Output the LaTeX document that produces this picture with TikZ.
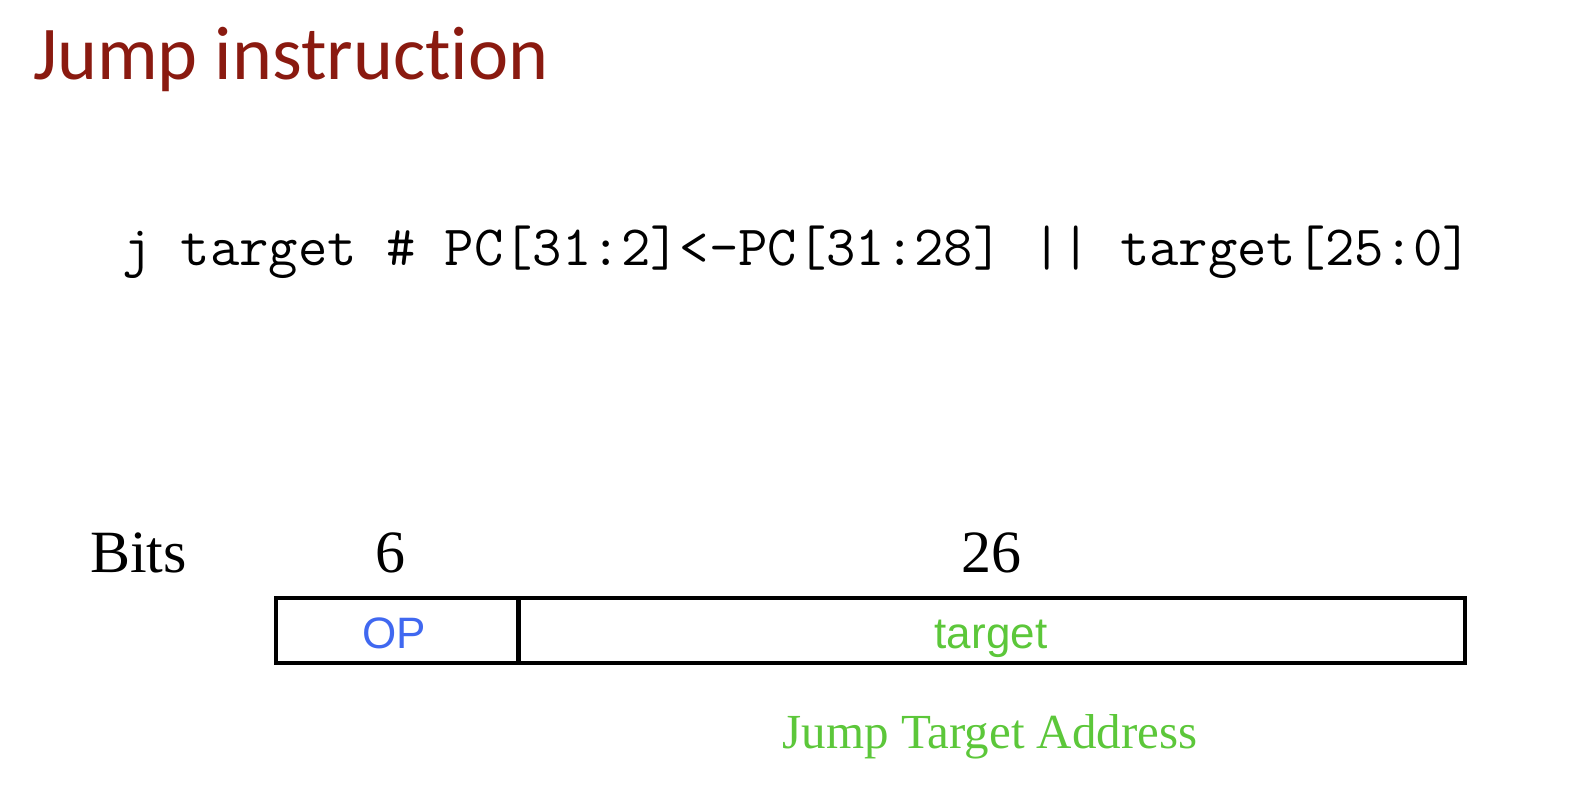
\documentclass[tikz,border=0pt]{standalone}
\usepackage{fontspec}
\newfontfamily\titlefont[Ligatures={NoCommon}]{Carlito}
\newfontfamily\seriffont{Liberation Serif}
\newfontfamily\sansfont{Liberation Sans}
\definecolor{titlered}{RGB}{138,26,16}
\definecolor{opblue}{RGB}{64,104,240}
\definecolor{tgtgreen}{RGB}{92,199,58}
\tikzset{
  every node/.style={inner sep=0pt, outer sep=0pt},
  bitslabel/.style={font=\seriffont\fontsize{30pt}{30pt}\selectfont, anchor=base},
  field/.style={draw=black, line width=2pt, minimum height=32.5pt, anchor=north west},
  fieldtext/.style={anchor=base, font=\sansfont\fontsize{22pt}{22pt}\selectfont},
}
\begin{document}
\begin{tikzpicture}[x=0.5pt,y=-0.5pt]
\useasboundingbox (0,0) rectangle (1594,784);
\node[anchor=base west, text=titlered, font=\titlefont\fontsize{38pt}{38pt}\selectfont] (title) at (33,79) {Jump instruction};
\node[anchor=base west, font=\ttfamily\fontsize{28.5pt}{28.5pt}\selectfont] (code) at (122,265) {j target \# PC[31:2]<-PC[31:28] || target[25:0]};
\node[bitslabel, anchor=base west] (bits) at (90,572) {Bits};
\node[bitslabel] (six) at (390,572) {6};
\node[bitslabel] (twentysix) at (991,572) {26};
\node[field, minimum width=121pt] (op) at (276,597.5) {};
\node[field, minimum width=473.25pt] (target) at (518.5,597.5) {};
\node[fieldtext, text=opblue] (optext) at (394,648) {OP};
\node[fieldtext, text=tgtgreen] (tgttext) at (991,648) {target};
\node[anchor=base, text=tgtgreen, font=\seriffont\fontsize{24.5pt}{24.5pt}\selectfont] (jta) at (990,748) {Jump Target Address};
\end{tikzpicture}
\end{document}
